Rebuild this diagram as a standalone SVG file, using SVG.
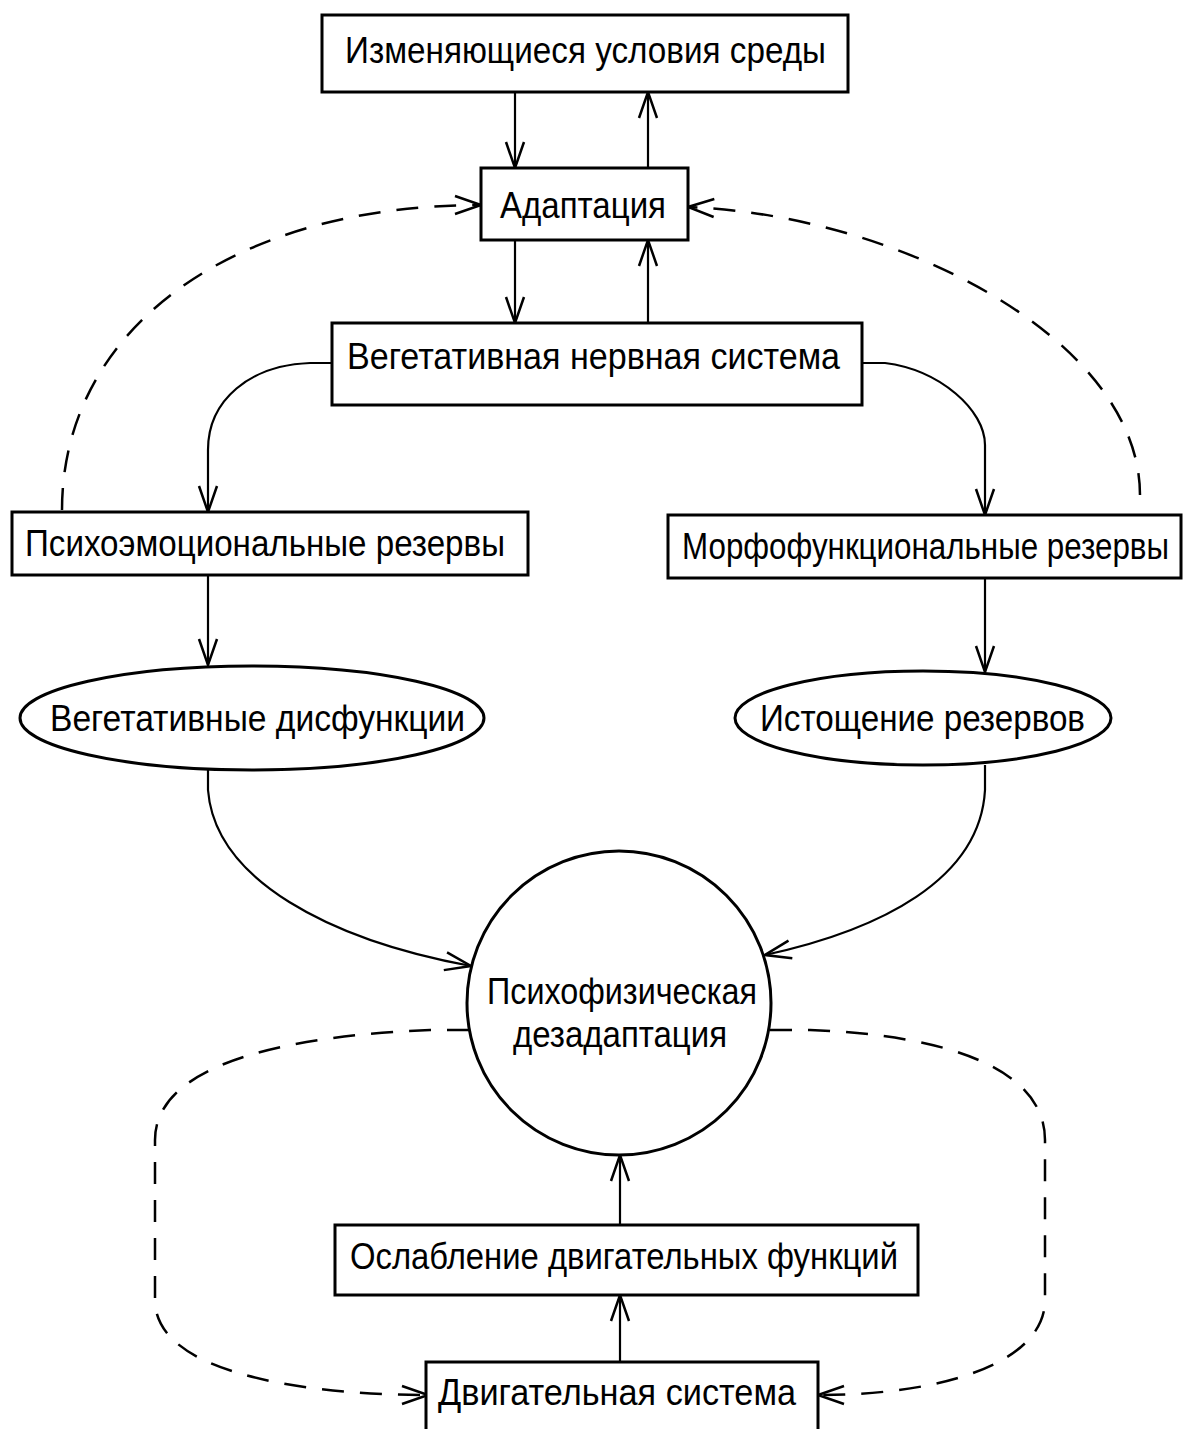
<svg xmlns="http://www.w3.org/2000/svg" width="1184" height="1429" viewBox="0 0 1184 1429">
<style>
.box{fill:#fff;stroke:#000;stroke-width:3}
.t{font-family:"Liberation Sans",Arial,sans-serif;font-size:37px;fill:#000}
.c{fill:none;stroke:#000;stroke-width:2.2}
.d{fill:none;stroke:#000;stroke-width:2.5;stroke-dasharray:22 16}
</style>
<defs>
<marker id="a" markerUnits="userSpaceOnUse" markerWidth="40" markerHeight="30" viewBox="-30 -15 40 30" refX="0" refY="0" orient="auto">
<path d="M-26,-9 L0,0 L-26,9" fill="none" stroke="#000" stroke-width="2.5"/>
</marker>
</defs>
<rect width="1184" height="1429" fill="#fff"/>
<g id="connectors">
<path class="c" d="M515,92 L515,168" marker-end="url(#a)"/>
<path class="c" d="M648,168 L648,92" marker-end="url(#a)"/>
<path class="c" d="M515,240 L515,323" marker-end="url(#a)"/>
<path class="c" d="M648,323 L648,240" marker-end="url(#a)"/>
<path class="c" d="M332,363 L310,363 C250,365 208,400 208,450 L208,512" marker-end="url(#a)"/>
<path class="c" d="M862,363 L885,363 C940,370 985,410 985,445 L985,515" marker-end="url(#a)"/>
<path class="c" d="M208,575 L208,665" marker-end="url(#a)"/>
<path class="c" d="M985,578 L985,672" marker-end="url(#a)"/>
<path class="c" d="M208,770 L208,790 C215,880 330,940 471,966" marker-end="url(#a)"/>
<path class="c" d="M985,765 L985,790 C980,880 880,930 765,955" marker-end="url(#a)"/>
<path class="c" d="M620,1225 L620,1155" marker-end="url(#a)"/>
<path class="c" d="M620,1362 L620,1295" marker-end="url(#a)"/>
<path class="d" d="M62,510 C62,330 230,205 481,205" marker-end="url(#a)"/>
<path class="d" d="M1140,495 C1140,340 900,215 688,207" marker-end="url(#a)"/>
<path class="d" d="M469,1030 L430,1030 C300,1035 155,1060 155,1140 L155,1300 C155,1380 330,1395 428,1395" marker-end="url(#a)"/>
<path class="d" d="M770,1030 L810,1030 C950,1035 1045,1070 1045,1140 L1045,1300 C1045,1360 950,1395 818,1395" marker-end="url(#a)"/>
</g>
<g id="n1"><rect class="box" x="322" y="15" width="526" height="77"/><text class="t" x="345" y="63" textLength="481" lengthAdjust="spacingAndGlyphs">Изменяющиеся условия среды</text></g>
<g id="n2"><rect class="box" x="481" y="168" width="207" height="72"/><text class="t" x="500" y="218" textLength="166" lengthAdjust="spacingAndGlyphs">Адаптация</text></g>
<g id="n3"><rect class="box" x="332" y="323" width="530" height="82"/><text class="t" x="347" y="369" textLength="493" lengthAdjust="spacingAndGlyphs">Вегетативная нервная система</text></g>
<g id="n4"><rect class="box" x="12" y="512" width="516" height="63"/><text class="t" x="25" y="556" textLength="480" lengthAdjust="spacingAndGlyphs">Психоэмоциональные резервы</text></g>
<g id="n5"><rect class="box" x="668" y="515" width="513" height="63"/><text class="t" x="682" y="559" textLength="487" lengthAdjust="spacingAndGlyphs">Морфофункциональные резервы</text></g>
<g id="n6"><ellipse class="box" cx="252" cy="718" rx="232" ry="52"/><text class="t" x="50" y="731" textLength="415" lengthAdjust="spacingAndGlyphs">Вегетативные дисфункции</text></g>
<g id="n7"><ellipse class="box" cx="923" cy="718" rx="188" ry="47"/><text class="t" x="760" y="731" textLength="325" lengthAdjust="spacingAndGlyphs">Истощение резервов</text></g>
<g id="n8"><ellipse class="box" cx="619" cy="1003" rx="152" ry="152"/><text class="t" x="487" y="1004" textLength="270" lengthAdjust="spacingAndGlyphs">Психофизическая</text><text class="t" x="513" y="1047" textLength="214" lengthAdjust="spacingAndGlyphs">дезадаптация</text></g>
<g id="n9"><rect class="box" x="335" y="1225" width="583" height="70"/><text class="t" x="350" y="1269" textLength="548" lengthAdjust="spacingAndGlyphs">Ослабление двигательных функций</text></g>
<g id="n10"><rect class="box" x="426" y="1362" width="392" height="80"/><text class="t" x="438" y="1405" textLength="358" lengthAdjust="spacingAndGlyphs">Двигательная система</text></g>
</svg>
